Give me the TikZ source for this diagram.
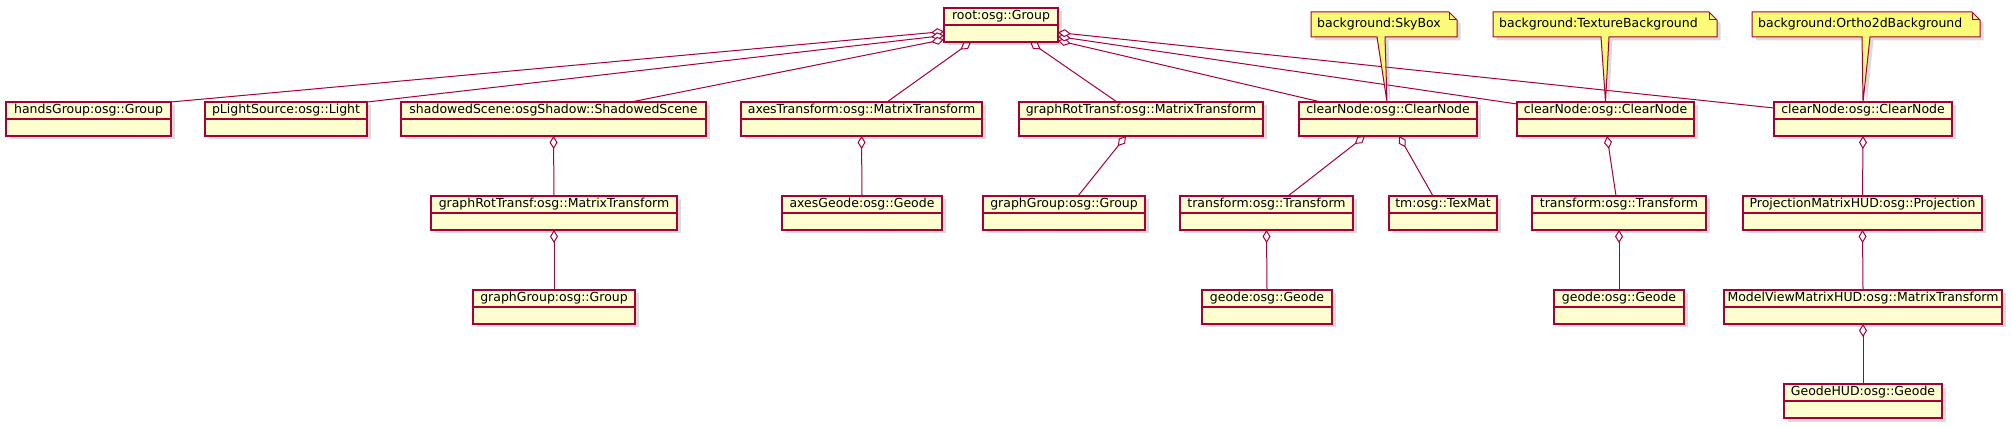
\documentclass[tikz,border=0pt]{standalone}
\usepackage{fontspec}
\setmainfont{DejaVu Sans}
\usetikzlibrary{arrows.meta,shadows,calc}
\definecolor{umlred}{HTML}{A80036}
\definecolor{umlbox}{HTML}{FEFECE}
\definecolor{umlnote}{HTML}{FBFB77}
\tikzset{
  umlshadow/.style={drop shadow={shadow xshift=3.5pt, shadow yshift=-3.5pt, fill=black!40, opacity=0.35}},
  objbox/.style={draw=umlred, fill=umlbox, line width=1.25pt, inner sep=0pt, outer sep=0pt, minimum height=34pt, umlshadow},
  objtext/.style={font=\fontsize{12.5}{14}\selectfont, inner sep=0pt, text=black},
  sepline/.style={draw=umlred, line width=1.25pt},
  link/.style={draw=umlred, line width=1pt},
  agg/.style={link, {Diamond[fill=white, length=13pt, width=8pt]}-},
  noteframe/.style={inner sep=0pt, outer sep=0pt, minimum height=25pt},
  notepoly/.style={draw=umlred, fill=umlnote, line width=1pt, line join=miter, umlshadow},
  notefold/.style={draw=umlred, line width=1pt},
}
% name, x1, x2, top y, text
\newcommand\umlobj[5]{%
  \node[objbox, minimum width={#3-#2}] (#1) at ({(#2+#3)/2},{#4+17}) {};
  \draw[sepline] ([yshift=-17pt]#1.north west) -- ([yshift=-17pt]#1.north east);
  \node[objtext] (#1-t) at ({(#2+#3)/2},{#4+8.5}) {#5};
}
% name, x1, x2, text, base left offset, base right offset, tip
\newcommand\umlnote[7]{%
  \node[noteframe, minimum width={#3-#2}] (#1) at ({(#2+#3)/2},24.5) {};
  \filldraw[notepoly] (#1.north west) -- ([xshift=-8pt]#1.north east) -- ([yshift=-8pt]#1.north east)
    -- (#1.south east) -- ([xshift=#6]#1.south west) -- #7 -- ([xshift=#5]#1.south west)
    -- (#1.south west) -- cycle;
  \draw[notefold] ([xshift=-8pt]#1.north east) |- ([yshift=-8pt]#1.north east);
  \node[objtext, anchor=west] (#1-t) at ([xshift=6pt]#1.west) {#4};
}
\begin{document}
\begin{tikzpicture}[x=1pt, y=-1pt]
\useasboundingbox (0,0) rectangle (2012,427);
% row 1
\umlobj{root}{944}{1058}{8}{root:osg::Group}
% row 2
\umlobj{hands}{6}{171}{102}{handsGroup:osg::Group}
\umlobj{plight}{205}{367}{102}{pLightSource:osg::Light}
\umlobj{shadow}{401}{706}{102}{shadowedScene:osgShadow::ShadowedScene}
\umlobj{axesT}{741}{982}{102}{axesTransform:osg::MatrixTransform}
\umlobj{grt}{1019}{1263}{102}{graphRotTransf:osg::MatrixTransform}
\umlobj{cnA}{1299}{1477}{102}{clearNode:osg::ClearNode}
\umlobj{cnB}{1517}{1694}{102}{clearNode:osg::ClearNode}
\umlobj{cnC}{1774}{1952}{102}{clearNode:osg::ClearNode}
% row 3
\umlobj{grtB}{431}{677}{196}{graphRotTransf:osg::MatrixTransform}
\umlobj{axesG}{782}{942}{196}{axesGeode:osg::Geode}
\umlobj{gg}{983}{1145}{196}{graphGroup:osg::Group}
\umlobj{trA}{1180}{1353}{196}{transform:osg::Transform}
\umlobj{tm}{1389}{1497}{196}{tm:osg::TexMat}
\umlobj{trB}{1532}{1706}{196}{transform:osg::Transform}
\umlobj{proj}{1743}{1982}{196}{ProjectionMatrixHUD:osg::Projection}
% row 4
\umlobj{ggB}{473}{635}{290}{graphGroup:osg::Group}
\umlobj{geoA}{1202}{1332}{290}{geode:osg::Geode}
\umlobj{geoB}{1554}{1684}{290}{geode:osg::Geode}
\umlobj{mv}{1724}{2002}{290}{ModelViewMatrixHUD:osg::MatrixTransform}
% row 5
\umlobj{ghud}{1784}{1942}{384}{GeodeHUD:osg::Geode}
% connectors from root
\draw[agg] ([yshift=-6.5pt]root.west) -- (hands.north east);
\draw[agg] ([yshift=-10.5pt]root.west) -- (plight.north east);
\draw[agg] ([yshift=-14.5pt]root.west) -- ([xshift=-75pt]shadow.north east);
\draw[agg] ([xshift=-30pt]root.south) -- ([xshift=25.5pt]axesT.north);
\draw[agg] ([xshift=29pt]root.south) -- ([xshift=-24pt]grt.north);
\draw[agg] ([yshift=-15.5pt]root.east) -- ([xshift=-67pt]cnA.north);
\draw[agg] ([yshift=-11.5pt]root.east) -- ([yshift=-2pt]cnB.north west);
\draw[agg] ([yshift=-7.5pt]root.east) -- ([yshift=-6pt]cnC.north west);
% lower connectors
\draw[agg] (shadow.south) -- (grtB.north);
\draw[agg] (axesT.south) -- (axesG.north);
\draw[agg] ([xshift=-15pt]grt.south) -- ([xshift=14pt]gg.north);
\draw[agg] ([xshift=-23pt]cnA.south) -- ([xshift=21.5pt]trA.north);
\draw[agg] ([xshift=11pt]cnA.south) -- ([xshift=-10pt]tm.north);
\draw[agg] ([xshift=1.5pt]cnB.south) -- ([xshift=-3pt]trB.north);
\draw[agg] (cnC.south) -- (proj.north);
\draw[agg] (grtB.south) -- (ggB.north);
\draw[agg] (trA.south) -- (geoA.north);
\draw[agg] (trB.south) -- (geoB.north);
\draw[agg] (proj.south) -- (mv.north);
\draw[agg] (mv.south) -- (ghud.north);
% notes
\umlnote{nSky}{1311}{1457}{background:SkyBox}{66pt}{74pt}{([xshift=-1pt]cnA.north)}
\umlnote{nTex}{1493}{1717}{background:TextureBackground}{108pt}{116pt}{(cnB.north)}
\umlnote{nOrt}{1752}{1980}{background:Ortho2dBackground}{110pt}{118pt}{(cnC.north)}
\end{tikzpicture}
\end{document}
